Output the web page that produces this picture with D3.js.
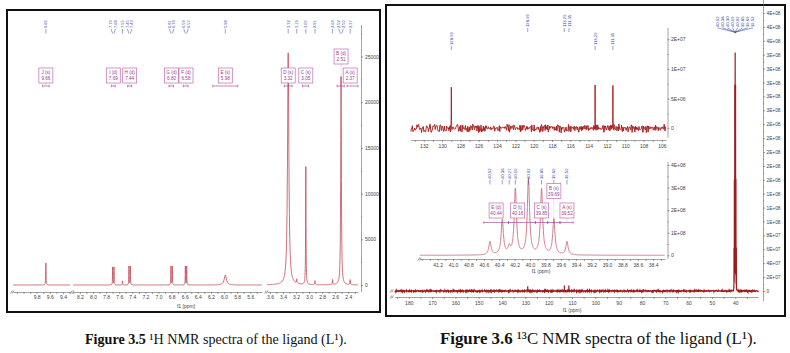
<!DOCTYPE html>
<html><head><meta charset="utf-8">
<script src="https://cdn.jsdelivr.net/npm/d3@7/dist/d3.min.js"></script>
<style>body{margin:0;background:#fff}svg{display:block}</style>
</head><body>
<svg id="c" width="790" height="353"></svg>
<script>
// ================= DATA =================
// ---- 1H NMR (Figure 3.5) ----
const hSegments = [[10.16, 9.29], [8.305, 5.42], [3.645, 2.25]];
const hTickLabels = [["9.8","9.6","9.4"],
  ["8.2","8.0","7.8","7.6","7.4","7.2","7.0","6.8","6.6","6.4","6.2","6.0","5.8","5.6"],
  ["3.6","3.4","3.2","3.0","2.8","2.6","2.4"]];
const hYTicks = [0, 5000, 10000, 15000, 20000, 25000];
const hPeakShift  = [9.66, 7.700, 7.679, 7.55, 7.451, 7.430, 6.810, 6.789, 6.590, 6.569, 5.98, 3.32, 3.19, 3.05, 2.91, 2.64, 2.51, 2.37];
const hPeakHeight = [2400, 1950, 1950, 450, 2050, 2050, 2050, 2050, 2050, 2050, 1100, 25400, 450, 12900, 450, 550, 22800, 550];
const hPeakWidth  = [0.006, 0.005, 0.005, 0.006, 0.005, 0.005, 0.005, 0.005, 0.005, 0.005, 0.04, 0.024, 0.008, 0.007, 0.008, 0.008, 0.012, 0.008];
const hPickShift  = [9.66, 7.70, 7.68, 7.55, 7.45, 7.43, 6.81, 6.79, 6.59, 6.57, 5.98, 3.32, 3.19, 3.05, 2.91, 2.64, 2.52, 2.50, 2.37];
const hMultName   = ["J (s)", "I (d)", "H (d)", "G (d)", "F (d)", "E (s)", "D (s)", "C (s)", "B (d)", "A (s)"];
const hMultShift  = [9.66, 7.69, 7.44, 6.80, 6.58, 5.98, 3.32, 3.05, 2.51, 2.37];
const hMultRange  = [[9.71, 9.61], [7.72, 7.66], [7.47, 7.41], [6.84, 6.77], [6.62, 6.55], [6.17, 5.79], [3.38, 3.26], [3.10, 3.01], [2.57, 2.46], [2.42, 2.25]];

// ---- 13C NMR (Figure 3.6) ----
const cMainDomain = [186, 30.1];
const cMainTickLabels = ["180","170","160","150","140","130","120","110","100","90","80","70","60","50","40"];
const cMainYTicks = d3.range(0, 21).map(i => i * 2e7);
const cInset1Domain = [133.45, 105.55];
const cInset1TickLabels = ["132","130","128","126","124","122","120","118","116","114","112","110","108","106"];
const cInset1YTicks = [0, 5e6, 1e7, 1.5e7];
const cInset2Domain = [41.43, 38.25];
const cInset2TickLabels = ["41.2","41.0","40.8","40.6","40.4","40.2","40.0","39.8","39.6","39.4","39.2","39.0","38.8","38.6","38.4"];
const cInset2YTicks = [0, 1e8, 2e8, 3e8, 4e8];
const cPeakShift  = [128.99, 113.29, 111.35, 40.52, 40.36, 40.27, 40.19, 40.02, 39.85, 39.69, 39.52];
const cPeakHeight = [7.0e6, 7.0e6, 7.0e6, 0.59e8, 1.55e8, 0.30e8, 2.90e8, 3.36e8, 2.90e8, 1.57e8, 0.59e8];
const cPeakWidth  = [0.02, 0.02, 0.02, 0.035, 0.035, 0.035, 0.035, 0.035, 0.035, 0.035, 0.035];
const cPickMain   = [128.99, 113.29, 111.35, 40.52, 40.38, 40.30, 40.19, 40.02, 39.85, 39.69, 39.52];
const cPickInset1 = [128.99, 113.29, 111.35];
const cPickInset2 = [40.52, 40.36, 40.27, 40.19, 40.02, 39.85, 39.69, 39.52];
const cMultName   = ["E (d)", "D (t)", "C (s)", "B (s)", "A (s)"];
const cMultShift  = [40.44, 40.16, 39.85, 39.69, 39.52];
const cMultRange  = [[40.60, 40.28], [40.28, 39.93], [39.93, 39.77], [39.77, 39.61], [39.61, 39.44]];
// baseline noise, read as a texture from the picture
const noise = [0.3,-0.8,0.5,-0.2,0.9,-0.6,0.1,-0.9,0.7,-0.3,0.4,-0.7,0.8,-0.1,-0.5,0.6,-0.9,0.2,0.5,-0.4,
  0.9,-0.8,0.0,0.6,-0.3,0.7,-0.6,0.3,-1.0,0.8,-0.2,0.4,-0.7,0.1,0.6,-0.5,0.9,-0.3,0.2,-0.8,
  0.5,-0.1,0.7,-0.9,0.4,-0.4,0.8,-0.6,0.1,0.3,-0.7,0.6,-0.2,0.9,-0.5,0.2,-0.8,0.7,-0.3,0.5,
  -0.6,0.0,0.8,-0.4,0.6,-0.9,0.3];

const captions = [
  {bold: "Figure 3.5", rest: " \u00B9H NMR spectra of the ligand (L\u00B9)."},
  {bold: "Figure 3.6", rest: " \u00B9\u00B3C NMR spectra of the ligand (L\u00B9)."}
];

// ================= HELPERS =================
const svg = d3.select("#c");
const FONT = "'Liberation Sans', Arial, sans-serif";
const PICK = "#34449a", MULT = "#9a3b8e";

function spectrum(lo, hi, step, shifts, heights, widths, amp) {
  let pts = d3.range(lo, hi, step).concat([hi]);
  shifts.forEach((c, i) => {
    if (c > lo - 0.5 && c < hi + 0.5) {
      const w = widths[i];
      for (let k = -48; k <= 48; k++) { const p = c + k * w / 4; if (p >= lo && p <= hi) pts.push(p); }
    }
  });
  pts.sort((a, b) => a - b);
  return pts.map(p => {
    let v = 0;
    for (let i = 0; i < shifts.length; i++) { const d = (p - shifts[i]) / (widths[i] / 2); v += heights[i] / (1 + d * d); }
    if (amp) { const g = Math.floor((p - lo) / step); v += amp * (0.7 * noise[g % 67] + 0.45 * noise[(g * 3) % 61]); }
    return {p, v};
  });
}
function styleAxis(g, size) {
  g.attr("font-size", size || 5).attr("font-family", FONT);
  g.selectAll("path.domain").attr("stroke", "#666").attr("stroke-width", 0.6);
  g.selectAll(".tick line").attr("stroke", "#666").attr("stroke-width", 0.6);
  g.selectAll("text").attr("fill", "#444");
}
function spread(xs, sp) {
  let cl = xs.map(x => ({c: x, n: 1, s: x}));
  let changed = true;
  while (changed) {
    changed = false;
    for (let i = 0; i < cl.length - 1; i++) {
      const a = cl[i], b = cl[i + 1];
      if ((b.c - (b.n - 1) * sp / 2) - (a.c + (a.n - 1) * sp / 2) < sp) {
        const n = a.n + b.n, s = a.s + b.s; cl.splice(i, 2, {c: s / n, n, s}); changed = true; break;
      }
    }
  }
  const out = []; cl.forEach(k => { for (let j = 0; j < k.n; j++) out.push(k.c - (k.n - 1) * sp / 2 + j * sp); });
  return out;
}
function picks(g, shifts, xf, yText, yLine, sp, fs) {
  const px = shifts.map(xf);
  const lx = spread(px, sp);
  shifts.forEach((s, i) => {
    g.append("text").attr("transform", `translate(${lx[i]},${yText}) rotate(-90)`)
      .attr("dy", "0.35em").attr("font-size", fs).attr("font-family", FONT).attr("fill", PICK)
      .text(s.toFixed(2));
    g.append("line").attr("x1", lx[i]).attr("y1", yText + 0.8).attr("x2", px[i]).attr("y2", yLine)
      .attr("stroke", PICK).attr("stroke-width", 0.5);
  });
}
function multiplets(g, names, shifts, ranges, xf, yRow0, yRow1, yRange) {
  const W = 14, H = 15;
  const order = shifts.map((s, i) => i).sort((a, b) => shifts[a] - shifts[b]);
  let lastX = Infinity;
  const row = [];
  order.forEach(i => { const x = xf(shifts[i]); if (Math.abs(lastX - x) < W) row[i] = 1; else { row[i] = 0; lastX = x; } });
  names.forEach((n, i) => {
    const cx = xf(shifts[i]), y = row[i] ? yRow1 : yRow0;
    g.append("rect").attr("x", cx - W / 2).attr("y", y).attr("width", W).attr("height", H)
      .attr("fill", "#fff").attr("stroke", "#c06ab2").attr("stroke-width", 0.7);
    g.append("text").attr("x", cx).attr("y", y + 6).attr("text-anchor", "middle").attr("font-size", 4.6)
      .attr("font-family", FONT).attr("fill", MULT).text(n);
    g.append("text").attr("x", cx).attr("y", y + 12).attr("text-anchor", "middle").attr("font-size", 4.6)
      .attr("font-family", FONT).attr("fill", MULT).text(shifts[i].toFixed(2));
    const x1 = xf(ranges[i][0]), x2 = xf(ranges[i][1]);
    g.append("line").attr("x1", x1).attr("x2", x2).attr("y1", yRange).attr("y2", yRange).attr("stroke", MULT).attr("stroke-width", 0.6);
    [x1, x2].forEach(x => g.append("line").attr("x1", x).attr("x2", x).attr("y1", yRange - 1.3).attr("y2", yRange + 1.3).attr("stroke", MULT).attr("stroke-width", 0.6));
    g.append("line").attr("x1", cx).attr("x2", cx).attr("y1", y + H).attr("y2", yRange).attr("stroke", MULT).attr("stroke-width", 0.3).attr("opacity", 0.5);
  });
}
function breakMark(g, x, y) {
  [0, 1.6].forEach(o => g.append("line").attr("x1", x + o - 0.8).attr("y1", y + 1.5).attr("x2", x + o + 0.8).attr("y2", y - 1.5)
    .attr("stroke", "#555").attr("stroke-width", 0.6));
}
function sci(v) {
  if (v === 0) return "0";
  const [m, e] = v.toExponential(0).split("e");
  return m + "E" + e[0] + e.slice(1).padStart(2, "0");
}

// ================= LEFT PANEL : 1H =================
const L = svg.append("g");
L.append("rect").attr("x", 7).attr("y", 10).attr("width", 373).attr("height", 302)
  .attr("fill", "none").attr("stroke", "#111").attr("stroke-width", 2);
const segRanges = [[13, 70.2], [73, 262], [267, 358]];
const hX = hSegments.map((d, i) => d3.scaleLinear().domain(d).range(segRanges[i]));
const hxOf = p => { for (const s of hX) { const d = s.domain(); if (p <= d[0] && p >= d[1]) return s(p); } return null; };
const yH = d3.scaleLinear().domain([0, 25000]).range([285, 56.5]);
const hLine = d3.line().x(d => d.x).y(d => yH(d.v));
hX.forEach((sx, i) => {
  const [hi, lo] = sx.domain();
  const data = spectrum(lo, hi, 0.008, hPeakShift, hPeakHeight, hPeakWidth, 0).map(d => ({x: sx(d.p), v: d.v}));
  L.append("path").attr("d", hLine(data)).attr("fill", "none").attr("stroke", "#c24a58").attr("stroke-width", 0.8);
  const tv = d3.range(Math.ceil(lo * 10 - 1e-6), Math.floor(hi * 10 + 1e-6) + 1).map(v => v / 10);
  const ax = L.append("g").attr("transform", "translate(0,292)")
    .call(d3.axisBottom(sx).tickValues(tv).tickSizeInner(2).tickSizeOuter(0).tickPadding(1.5)
      .tickFormat(d => hTickLabels[i].includes(d.toFixed(1)) ? d.toFixed(1) : ""));
  styleAxis(ax, 5);
  breakMark(L, sx.range()[0] - 1.5, 292);
});
L.append("text").attr("x", 186).attr("y", 308).attr("text-anchor", "middle").attr("font-size", 5)
  .attr("font-family", FONT).attr("fill", "#444").text("f1 [ppm]");
const yHax = d3.scaleLinear().domain([-700, 28500]).range([yH(-700), yH(28500)]);
const hMinor = d3.range(0, 28000, 2500);
const hyAx = L.append("g").attr("transform", "translate(361,0)")
  .call(d3.axisRight(yHax).tickValues(hMinor).tickSizeInner(2).tickSizeOuter(0).tickPadding(2)
    .tickFormat(d => hYTicks.includes(d) ? d3.format("d")(d) : ""));
styleAxis(hyAx, 5);
hyAx.selectAll(".tick line").attr("x2", d => hYTicks.includes(d) ? 2 : 1.2);
picks(L, hPickShift, hxOf, 28, 33.5, 4.6, 4);
multiplets(L, hMultName, hMultShift, hMultRange, hxOf, 68, 49, 86);

// ================= RIGHT PANEL : 13C =================
const R = svg.append("g");
R.append("rect").attr("x", 386).attr("y", 5).attr("width", 399).attr("height", 311)
  .attr("fill", "none").attr("stroke", "#111").attr("stroke-width", 2);

// main spectrum
const xC = d3.scaleLinear().domain(cMainDomain).range([394.8, 758.3]);
const yC = d3.scaleLinear().domain([0, 4e8]).range([291, 13]);
const mainData = spectrum(cMainDomain[1], cMainDomain[0], 0.1, cPeakShift, cPeakHeight, cPeakWidth, 1.2e6);
R.append("path").attr("d", d3.line().x(d => xC(d.p)).y(d => yC(d.v))(mainData))
  .attr("fill", "none").attr("stroke", "#9b1c1c").attr("stroke-width", 1.2);
const mx = R.append("g").attr("transform", "translate(0,297)")
  .call(d3.axisBottom(xC).tickValues(d3.range(35, 186, 5)).tickSizeInner(2).tickSizeOuter(0).tickPadding(2)
    .tickFormat(d => cMainTickLabels.includes(String(d)) ? String(d) : ""));
styleAxis(mx, 5);
breakMark(R, 391, 297); breakMark(R, 391, 291);
R.append("text").attr("x", 572).attr("y", 312).attr("text-anchor", "middle").attr("font-size", 5)
  .attr("font-family", FONT).attr("fill", "#444").text("f1 (ppm)");
const yCax = d3.scaleLinear().domain([-1.4e7, 4.2e8]).range([yC(-1.4e7), yC(4.2e8)]);
const my = R.append("g").attr("transform", "translate(763,0)")
  .call(d3.axisRight(yCax).tickValues(d3.range(0, 41).map(i => i * 1e7)).tickSizeInner(2).tickSizeOuter(0).tickPadding(1.5)
    .tickFormat(d => cMainYTicks.includes(d) ? sci(d) : ""));
styleAxis(my, 4.8);
my.selectAll(".tick line").attr("x2", d => cMainYTicks.includes(d) ? 2 : 1.2);
picks(R, cPickMain, xC, 27, 32, 5.1, 4.2);
R.append("path").attr("d", `M${xC(40.02)-1.6},31.5 L${xC(40.02)+1.6},31.5 L${xC(40.02)},33.5 Z`).attr("fill", PICK);

// inset 1 : aromatic region
const x1 = d3.scaleLinear().domain(cInset1Domain).range([410.5, 666]);
const y1 = d3.scaleLinear().domain([0, 1.5e7]).range([128.3, 39.2]);
const ins1 = spectrum(cInset1Domain[1], cInset1Domain[0], 0.05, cPeakShift, cPeakHeight, cPeakWidth, 7e5);
R.append("path").attr("d", d3.line().x(d => x1(d.p)).y(d => y1(d.v))(ins1))
  .attr("fill", "none").attr("stroke", "#a31818").attr("stroke-width", 0.9);
const i1x = R.append("g").attr("transform", "translate(0,140)")
  .call(d3.axisBottom(x1).tickValues(d3.range(106, 134, 1)).tickSizeInner(2).tickSizeOuter(0).tickPadding(2)
    .tickFormat(d => cInset1TickLabels.includes(String(d)) ? String(d) : ""));
styleAxis(i1x, 5);
const y1ax = d3.scaleLinear().domain([-1.5e6, 1.7e7]).range([y1(-1.5e6), y1(1.7e7)]);
const i1y = R.append("g").attr("transform", "translate(667.5,0)")
  .call(d3.axisRight(y1ax).tickValues(d3.range(0, 7).map(i => i * 2.5e6)).tickSizeInner(2).tickSizeOuter(0).tickPadding(1.5)
    .tickFormat(d => cInset1YTicks.includes(d) ? sci(d) : ""));
styleAxis(i1y, 5);
i1y.selectAll(".tick line").attr("x2", d => cInset1YTicks.includes(d) ? 2 : 1.2);
picks(R, cPickInset1, x1, 45, 50, 4.6, 4.2);

// inset 2 : solvent region
const x2 = d3.scaleLinear().domain([40, 39]).range([530, 607]);
const x2r = d3.scaleLinear().domain(cInset2Domain).range([x2(cInset2Domain[0]), x2(cInset2Domain[1])]);
const y2 = d3.scaleLinear().domain([0, 4e8]).range([255.3, 165]);
const ins2 = spectrum(cInset2Domain[1], cInset2Domain[0], 0.004, cPeakShift, cPeakHeight, cPeakWidth, 0);
R.append("path").attr("d", d3.line().x(d => x2(d.p)).y(d => y2(d.v))(ins2))
  .attr("fill", "none").attr("stroke", "#c96b78").attr("stroke-width", 0.9);
const i2tv = d3.range(383, 415).map(v => v / 10);
const i2x = R.append("g").attr("transform", "translate(0,259)")
  .call(d3.axisBottom(x2r).tickValues(i2tv).tickSizeInner(2).tickSizeOuter(0).tickPadding(2)
    .tickFormat(d => cInset2TickLabels.includes(d.toFixed(1)) ? d.toFixed(1) : ""));
styleAxis(i2x, 5);
breakMark(R, x2r.range()[0] - 1, 259);
R.append("text").attr("x", 541).attr("y", 273).attr("text-anchor", "middle").attr("font-size", 5)
  .attr("font-family", FONT).attr("fill", "#444").text("f1 (ppm)");
const y2ax = d3.scaleLinear().domain([-1.3e7, 4.15e8]).range([y2(-1.3e7), y2(4.15e8)]);
const i2y = R.append("g").attr("transform", "translate(667.5,0)")
  .call(d3.axisRight(y2ax).tickValues(d3.range(0, 9).map(i => i * 5e7)).tickSizeInner(2).tickSizeOuter(0).tickPadding(1.5)
    .tickFormat(d => cInset2YTicks.includes(d) ? sci(d) : ""));
styleAxis(i2y, 5);
i2y.selectAll(".tick line").attr("x2", d => cInset2YTicks.includes(d) ? 2 : 1.2);
picks(R, cPickInset2, x2, 179, 184.5, 4.6, 4.2);
multiplets(R, cMultName, cMultShift, cMultRange, x2, 203, 183.5, 222.5);

// ================= CAPTIONS =================
const capX = [85, 440], capW = [262, 317];
captions.forEach((c, i) => {
  const t = svg.append("text").attr("x", capX[i]).attr("y", 344)
    .attr("font-family", "'Liberation Serif', 'DejaVu Serif', serif").attr("font-size", 15).attr("fill", "#111");
  t.append("tspan").attr("font-weight", "bold").text(c.bold);
  t.append("tspan").text(c.rest);
  const w = t.node().getComputedTextLength();
  t.attr("font-size", 15 * capW[i] / w);
});
</script>
</body></html>
